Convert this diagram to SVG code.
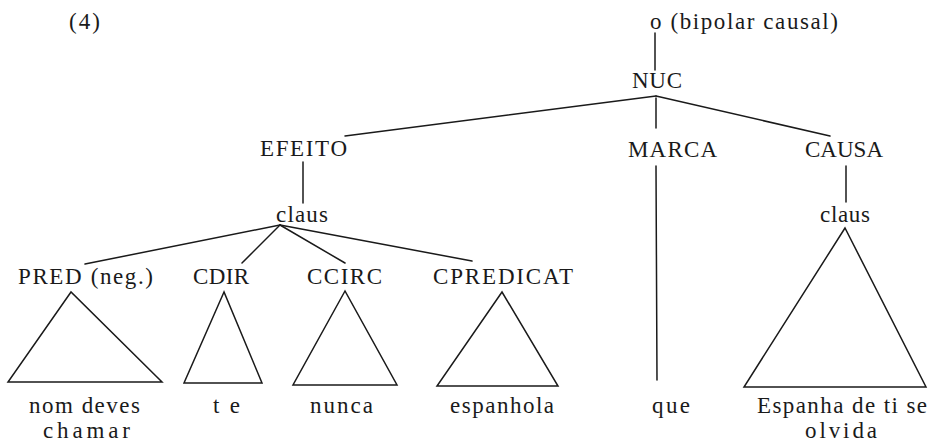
<svg xmlns="http://www.w3.org/2000/svg" width="929" height="445" viewBox="0 0 929 445">
<style>
text{font-family:"Liberation Serif","DejaVu Serif",serif;font-size:23px;fill:#1a1a1a}
.l{stroke:#1a1a1a;stroke-width:1.5;fill:none;stroke-linecap:round}
.t{stroke:#1a1a1a;stroke-width:1.5;fill:none;stroke-linejoin:miter}
</style>
<rect width="929" height="445" fill="#fff"/>
<text x="69" y="29" textLength="31" lengthAdjust="spacing">(4)</text>
<g id="connectors">
<line class="l" x1="655" y1="33" x2="655" y2="70"/>
<line class="l" x1="656" y1="96" x2="345" y2="136"/>
<line class="l" x1="656" y1="96" x2="830" y2="136"/>
<line class="l" x1="656" y1="98" x2="656" y2="128"/>
<line class="l" x1="303" y1="162" x2="303" y2="203"/>
<line class="l" x1="656" y1="166" x2="657" y2="380"/>
<line class="l" x1="846" y1="166" x2="846" y2="202"/>
<line class="l" x1="280" y1="225" x2="85" y2="264"/>
<line class="l" x1="280" y1="225" x2="242" y2="263"/>
<line class="l" x1="280" y1="225" x2="345" y2="263"/>
<line class="l" x1="280" y1="225" x2="472" y2="261"/>
</g>
<g id="root"><text x="650" y="29" textLength="188" lengthAdjust="spacing">o (bipolar causal)</text></g>
<g id="nuc"><text x="632" y="88" textLength="50" lengthAdjust="spacing">NUC</text></g>
<g id="efeito"><text x="260" y="156" textLength="87" lengthAdjust="spacing">EFEITO</text></g>
<g id="marca"><text x="628" y="157" textLength="89" lengthAdjust="spacing">MARCA</text></g>
<g id="causa"><text x="805" y="157" textLength="78" lengthAdjust="spacing">CAUSA</text></g>
<g id="claus1"><text x="276" y="222" textLength="52" lengthAdjust="spacing">claus</text></g>
<g id="claus2"><text x="820" y="222" textLength="50" lengthAdjust="spacing">claus</text></g>
<g id="pred">
<text x="18" y="284" textLength="135" lengthAdjust="spacing">PRED (neg.)</text>
<polygon class="t" points="71,292 8,382 162,382"/>
<text x="29" y="413" textLength="111" lengthAdjust="spacing">nom deves</text>
<text x="43" y="438" textLength="87" lengthAdjust="spacing">chamar</text>
</g>
<g id="cdir">
<text x="193" y="284" textLength="56" lengthAdjust="spacing">CDIR</text>
<polygon class="t" points="224,292 184,383 262,383"/>
<text x="213" y="413" textLength="27" lengthAdjust="spacing">te</text>
</g>
<g id="ccirc">
<text x="307" y="284" textLength="75" lengthAdjust="spacing">CCIRC</text>
<polygon class="t" points="345,291 293,385 397,385"/>
<text x="310" y="413" textLength="63" lengthAdjust="spacing">nunca</text>
</g>
<g id="cpredicat">
<text x="433" y="284" textLength="140" lengthAdjust="spacing">CPREDICAT</text>
<polygon class="t" points="502,292 437,386 558,386"/>
<text x="450" y="413" textLength="104" lengthAdjust="spacing">espanhola</text>
</g>
<g id="que"><text x="652" y="413" textLength="38" lengthAdjust="spacing">que</text></g>
<g id="causa-clause">
<polygon class="t" points="845,228 744,387 926,387"/>
<text x="757" y="413" textLength="170" lengthAdjust="spacing">Espanha de ti se</text>
<text x="805" y="438" textLength="72" lengthAdjust="spacing">olvida</text>
</g>
</svg>
